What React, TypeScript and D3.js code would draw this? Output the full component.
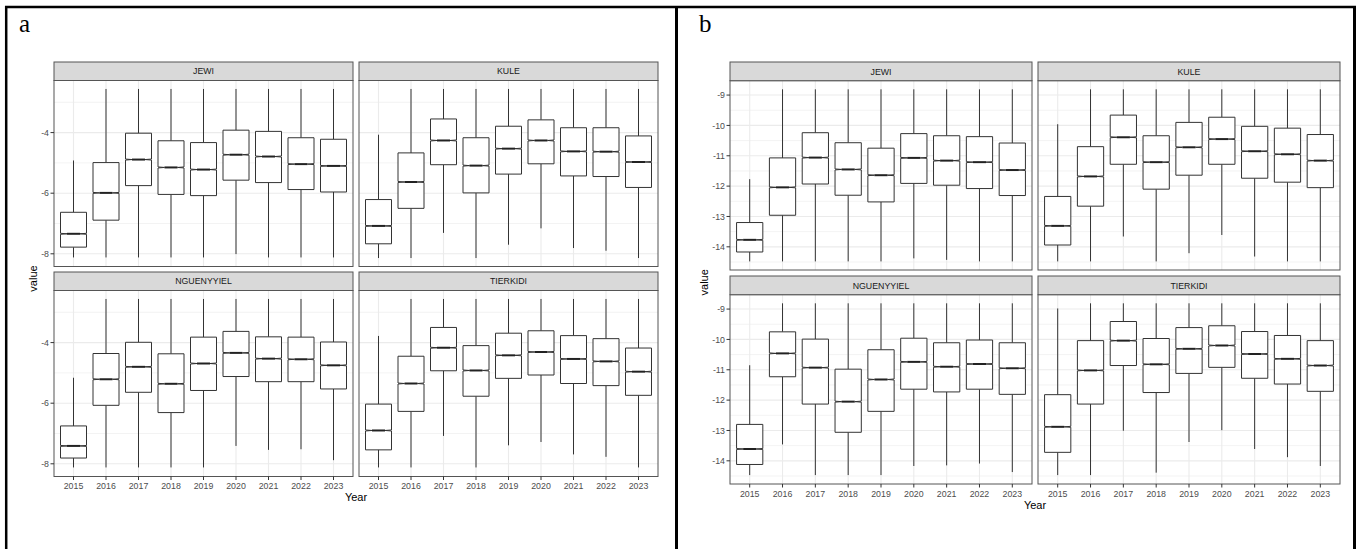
import React, { useRef, useEffect } from "react";
import * as d3 from "d3";

const years = ["2015", "2016", "2017", "2018", "2019", "2020", "2021", "2022", "2023"];
const facets = ["JEWI", "KULE", "NGUENYYIEL", "TIERKIDI"];

// each row: [lower whisker, Q1, median, Q3, upper whisker]
const aJewi = [
  [-8.12, -7.78, -7.34, -6.63, -4.92],
  [-8.12, -6.89, -5.99, -4.99, -2.56],
  [-8.12, -5.75, -4.89, -4.02, -2.56],
  [-8.12, -6.04, -5.15, -4.27, -2.56],
  [-8.12, -6.08, -5.22, -4.33, -2.56],
  [-8.01, -5.57, -4.73, -3.92, -2.56],
  [-8.12, -5.65, -4.79, -3.96, -2.56],
  [-8.12, -5.88, -5.04, -4.17, -2.56],
  [-8.12, -5.96, -5.10, -4.22, -2.56],
];
const aKule = [
  [-8.14, -7.67, -7.08, -6.21, -4.07],
  [-8.14, -6.50, -5.63, -4.67, -2.56],
  [-7.31, -5.06, -4.26, -3.55, -2.56],
  [-8.14, -5.99, -5.09, -4.17, -2.56],
  [-7.70, -5.37, -4.53, -3.79, -2.56],
  [-7.16, -5.03, -4.26, -3.58, -2.56],
  [-7.81, -5.43, -4.62, -3.84, -2.56],
  [-7.90, -5.45, -4.63, -3.84, -2.56],
  [-8.14, -5.81, -4.97, -4.11, -2.56],
];
const aNguenyyiel = [
  [-8.12, -7.81, -7.41, -6.75, -5.16],
  [-8.12, -6.07, -5.21, -4.36, -2.56],
  [-8.12, -5.64, -4.80, -3.99, -2.56],
  [-8.12, -6.31, -5.36, -4.37, -2.56],
  [-8.12, -5.58, -4.69, -3.82, -2.56],
  [-7.41, -5.12, -4.34, -3.63, -2.56],
  [-7.54, -5.29, -4.53, -3.81, -2.56],
  [-7.52, -5.29, -4.55, -3.82, -2.56],
  [-7.88, -5.53, -4.75, -3.98, -2.56],
];
const aTierkidi = [
  [-8.12, -7.54, -6.90, -6.03, -3.78],
  [-8.12, -6.27, -5.35, -4.45, -2.56],
  [-7.08, -4.93, -4.17, -3.50, -2.56],
  [-8.12, -5.77, -4.92, -4.10, -2.56],
  [-7.39, -5.18, -4.42, -3.69, -2.56],
  [-7.28, -5.07, -4.31, -3.61, -2.56],
  [-7.69, -5.35, -4.54, -3.77, -2.56],
  [-7.77, -5.42, -4.62, -3.87, -2.56],
  [-8.12, -5.74, -4.96, -4.18, -2.56],
];

const bJewi = [
  [-14.48, -14.17, -13.77, -13.20, -11.77],
  [-14.48, -12.96, -12.04, -11.07, -8.81],
  [-14.48, -11.93, -11.06, -10.24, -8.81],
  [-14.48, -12.30, -11.45, -10.57, -8.81],
  [-14.48, -12.52, -11.64, -10.75, -8.81],
  [-14.38, -11.91, -11.07, -10.27, -8.81],
  [-14.43, -11.97, -11.16, -10.34, -8.81],
  [-14.48, -12.08, -11.21, -10.37, -8.81],
  [-14.48, -12.31, -11.47, -10.58, -8.81],
];
const bKule = [
  [-14.48, -13.94, -13.31, -12.34, -9.96],
  [-14.48, -12.66, -11.68, -10.70, -8.81],
  [-13.66, -11.28, -10.39, -9.66, -8.81],
  [-14.48, -12.10, -11.21, -10.34, -8.81],
  [-14.21, -11.64, -10.72, -9.90, -8.81],
  [-13.61, -11.28, -10.45, -9.73, -8.81],
  [-14.32, -11.74, -10.85, -10.03, -8.81],
  [-14.48, -11.87, -10.95, -10.09, -8.81],
  [-14.48, -12.05, -11.16, -10.30, -8.81],
];
const bNguenyyiel = [
  [-14.47, -14.12, -13.61, -12.80, -10.85],
  [-13.46, -11.23, -10.46, -9.75, -8.81],
  [-14.47, -12.13, -10.93, -9.99, -8.81],
  [-14.47, -13.06, -12.05, -10.98, -8.81],
  [-14.47, -12.37, -11.32, -10.34, -8.81],
  [-14.17, -11.64, -10.74, -9.96, -8.81],
  [-14.15, -11.73, -10.90, -10.11, -8.81],
  [-14.09, -11.64, -10.81, -10.02, -8.81],
  [-14.37, -11.81, -10.95, -10.11, -8.81],
];
const bTierkidi = [
  [-14.47, -13.72, -12.88, -11.82, -8.98],
  [-14.47, -12.13, -11.02, -10.04, -8.81],
  [-13.01, -10.86, -10.04, -9.41, -8.81],
  [-14.39, -11.75, -10.82, -9.97, -8.81],
  [-13.38, -11.12, -10.31, -9.61, -8.81],
  [-12.99, -10.92, -10.20, -9.55, -8.81],
  [-13.61, -11.28, -10.48, -9.74, -8.81],
  [-13.88, -11.47, -10.64, -9.87, -8.81],
  [-14.17, -11.71, -10.86, -10.04, -8.81],
];

const aTicks = [-8, -6, -4];
const bTicks = [-14, -13, -12, -11, -10, -9];

// layout of the two figure halves
const halves = [
  {
    label: "a", labelX: 19, data: [aJewi, aKule, aNguenyyiel, aTierkidi], ticks: aTicks,
    cols: [[54, 353], [359, 658]], stripTops: [62, 272], stripH: 18.5, panelH: 186,
    valueX: 37,
  },
  {
    label: "b", labelX: 699, data: [bJewi, bKule, bNguenyyiel, bTierkidi], ticks: bTicks,
    cols: [[730, 1032], [1038, 1340]], stripTops: [62, 276], stripH: 18.7, panelH: 189.3,
    valueX: 708,
  },
];

const sans = "'Liberation Sans', Arial, sans-serif";

const App = () => {
  const ref = useRef<SVGSVGElement>(null);

  useEffect(() => {
    const svg = d3.select(ref.current);
    svg.selectAll("*").remove();

    // figure frame
    const frame = svg.append("g").attr("fill", "none").attr("stroke", "#000");
    frame.append("line").attr("x1", 5).attr("x2", 1356).attr("y1", 7).attr("y2", 7).attr("stroke-width", 2.5);
    frame.append("line").attr("x1", 6.2).attr("x2", 6.2).attr("y1", 6).attr("y2", 549).attr("stroke-width", 2.5);
    frame.append("line").attr("x1", 676.5).attr("x2", 676.5).attr("y1", 6).attr("y2", 549).attr("stroke-width", 3);
    frame.append("line").attr("x1", 1354.5).attr("x2", 1354.5).attr("y1", 6).attr("y2", 549).attr("stroke-width", 3);

    halves.forEach((h) => {
      const g = svg.append("g");
      g.append("text")
        .attr("x", h.labelX).attr("y", 32)
        .attr("font-family", "'Liberation Serif', 'Times New Roman', serif")
        .attr("font-size", 25).attr("fill", "#000")
        .text(h.label);

      const all = h.data.flat(2) as number[];
      const lo = d3.min(all) as number;
      const hi = d3.max(all) as number;
      const pad = (hi - lo) * 0.05;

      h.data.forEach((facet, fi) => {
        const col = fi % 2;
        const row = Math.floor(fi / 2);
        const [x0, x1] = h.cols[col];
        const stripTop = h.stripTops[row];
        const top = stripTop + h.stripH;
        const bottom = top + h.panelH;

        const x = d3.scaleBand<string>().domain(years).range([x0, x1]).paddingInner(0).paddingOuter(0.1);
        const y = d3.scaleLinear().domain([lo - pad, hi + pad]).range([bottom, top]);
        const step = x.step();
        const cx = (yr: string) => (x(yr) as number) + x.bandwidth() / 2;

        const p = g.append("g");
        p.append("rect").attr("x", x0).attr("y", top).attr("width", x1 - x0).attr("height", h.panelH).attr("fill", "#fff");

        // minor grid
        const minor = d3.range(h.ticks.length + 1).map((i) => h.ticks[0] + (i - 0.5) * (h.ticks[1] - h.ticks[0]))
          .filter((v) => v > lo - pad && v < hi + pad);
        p.selectAll(".minor").data(minor).enter().append("line")
          .attr("x1", x0).attr("x2", x1).attr("y1", (d) => y(d)).attr("y2", (d) => y(d))
          .attr("stroke", "#EBEBEB").attr("stroke-width", 0.6);
        // major grid
        p.selectAll(".major").data(h.ticks).enter().append("line")
          .attr("x1", x0).attr("x2", x1).attr("y1", (d) => y(d)).attr("y2", (d) => y(d))
          .attr("stroke", "#EBEBEB").attr("stroke-width", 1.1);
        p.selectAll(".vgrid").data(years).enter().append("line")
          .attr("x1", (d) => cx(d)).attr("x2", (d) => cx(d)).attr("y1", top).attr("y2", bottom)
          .attr("stroke", "#EBEBEB").attr("stroke-width", 1.1);

        // notched boxes (notches are very shallow)
        const hw = step * 0.4;
        const nw = hw * 0.5;
        const dn = 0.5;
        facet.forEach((s, i) => {
          const c = cx(years[i]);
          const [wl, q1, md, q3, wh] = s.map((v) => y(v));
          const b = p.append("g").attr("stroke", "#333").attr("fill", "none");
          b.append("line").attr("x1", c).attr("x2", c).attr("y1", wl).attr("y2", q1).attr("stroke-width", 1);
          b.append("line").attr("x1", c).attr("x2", c).attr("y1", q3).attr("y2", wh).attr("stroke-width", 1);
          const path = d3.path();
          path.moveTo(c - hw, q1);
          path.lineTo(c - hw, md + dn);
          path.lineTo(c - nw, md);
          path.lineTo(c - hw, md - dn);
          path.lineTo(c - hw, q3);
          path.lineTo(c + hw, q3);
          path.lineTo(c + hw, md - dn);
          path.lineTo(c + nw, md);
          path.lineTo(c + hw, md + dn);
          path.lineTo(c + hw, q1);
          path.closePath();
          b.append("path").attr("d", path.toString()).attr("fill", "#fff").attr("stroke-width", 1);
          b.append("line").attr("x1", c - nw).attr("x2", c + nw).attr("y1", md).attr("y2", md)
            .attr("stroke", "#222").attr("stroke-width", 2);
        });

        // panel border + strip
        p.append("rect").attr("x", x0).attr("y", top).attr("width", x1 - x0).attr("height", h.panelH)
          .attr("fill", "none").attr("stroke", "#555").attr("stroke-width", 1);
        p.append("rect").attr("x", x0).attr("y", stripTop).attr("width", x1 - x0).attr("height", h.stripH)
          .attr("fill", "#D9D9D9").attr("stroke", "#555").attr("stroke-width", 1);
        p.append("text").attr("x", (x0 + x1) / 2).attr("y", stripTop + h.stripH / 2 + 3.2)
          .attr("text-anchor", "middle").attr("font-family", sans).attr("font-size", 8.8)
          .attr("fill", "#1A1A1A").text(facets[fi]);

        // y axis on left column
        if (col === 0) {
          const ya = p.append("g");
          ya.selectAll("line").data(h.ticks).enter().append("line")
            .attr("x1", x0 - 3.5).attr("x2", x0).attr("y1", (d) => y(d)).attr("y2", (d) => y(d))
            .attr("stroke", "#333").attr("stroke-width", 1);
          ya.selectAll("text").data(h.ticks).enter().append("text")
            .attr("x", x0 - 5).attr("y", (d) => y(d) + 3.2).attr("text-anchor", "end")
            .attr("font-family", sans).attr("font-size", 8.8).attr("fill", "#4D4D4D")
            .text((d) => String(d));
        }
        // x axis on bottom row
        if (row === 1) {
          const xa = p.append("g");
          xa.selectAll("line").data(years).enter().append("line")
            .attr("x1", (d) => cx(d)).attr("x2", (d) => cx(d)).attr("y1", bottom).attr("y2", bottom + 3.5)
            .attr("stroke", "#333").attr("stroke-width", 1);
          xa.selectAll("text").data(years).enter().append("text")
            .attr("x", (d) => cx(d)).attr("y", bottom + 12.8).attr("text-anchor", "middle")
            .attr("font-family", sans).attr("font-size", 8.8).attr("fill", "#4D4D4D")
            .text((d) => d);
        }
      });

      const panelTop = h.stripTops[0] + h.stripH;
      const panelBottom = h.stripTops[1] + h.stripH + h.panelH;
      g.append("text")
        .attr("x", (h.cols[0][0] + h.cols[1][1]) / 2).attr("y", panelBottom + 24.5)
        .attr("text-anchor", "middle").attr("font-family", sans).attr("font-size", 11).attr("fill", "#000")
        .text("Year");
      g.append("text")
        .attr("transform", `translate(${h.valueX},${(panelTop + panelBottom) / 2}) rotate(-90)`)
        .attr("text-anchor", "middle").attr("font-family", sans).attr("font-size", 11).attr("fill", "#000")
        .text("value");
    });
  }, []);

  return (
    <svg
      ref={ref}
      width={1362}
      height={549}
      style={{ position: "absolute", left: 0, top: 0, background: "#fff" }}
    />
  );
};

export default App;
